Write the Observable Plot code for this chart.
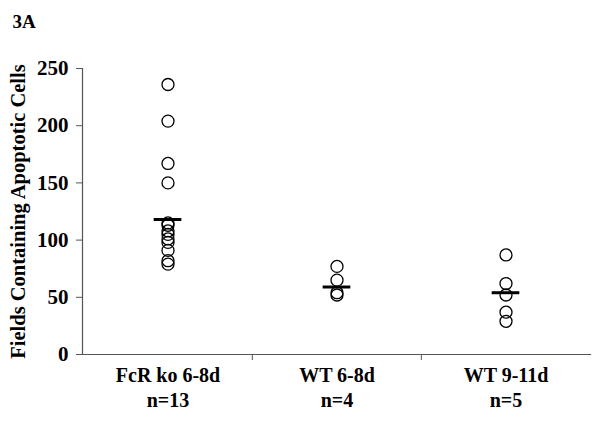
<!DOCTYPE html>
<html>
<head>
<meta charset="utf-8">
<script src="https://cdn.jsdelivr.net/npm/d3@7"></script>
<script src="https://cdn.jsdelivr.net/npm/@observablehq/plot@0.6"></script>
<style>
  body { margin: 0; background: white; }
</style>
</head>
<body>
<div id="chart"></div>
<script>
const groups = ["FcR ko 6-8d", "WT 6-8d", "WT 9-11d"];
const nLabels = ["n=13", "n=4", "n=5"];
const fcrValues = [236, 204, 167, 150, 115, 113, 108, 105, 101, 98, 91, 82, 79];
const wt68Values = [77, 65, 54, 52];
const wt911Values = [87, 62, 52, 37, 29];
const centerLines = [118, 59, 54];
const yTicks = [0, 50, 100, 150, 200, 250];
const yLabel = "Fields Containing Apoptotic Cells";
const panelLabel = "3A";

const points = [
  ...fcrValues.map(v => ({group: groups[0], value: v})),
  ...wt68Values.map(v => ({group: groups[1], value: v})),
  ...wt911Values.map(v => ({group: groups[2], value: v}))
];
const lines = groups.map((g, i) => ({group: g, value: centerLines[i]}));

const W = 600, H = 432, mL = 82, mR = 10, mT = 68, mB = 78;
const bw = (W - mL - mR) / groups.length;
const font = "'Liberation Serif', 'Times New Roman', serif";

const chart = Plot.plot({
  width: W,
  height: H,
  marginLeft: mL,
  marginRight: mR,
  marginTop: mT,
  marginBottom: mB,
  style: {fontFamily: font, fontWeight: "bold", fontSize: "20px", color: "black", background: "white"},
  x: {domain: groups, padding: 0, axis: null},
  y: {domain: [0, 250], axis: null},
  marks: [
    Plot.axisY({ticks: yTicks, tickSize: 6, tickPadding: 8, label: null, stroke: "#555", fontSize: 21}),
    Plot.axisX({tickSize: 0, tickPadding: 10, label: null, fontSize: 20, lineHeight: 1.25,
      tickFormat: d => d + "\n" + nLabels[groups.indexOf(d)]}),
    Plot.axisX({ticks: groups.slice(1), tickSize: 6, tickFormat: () => "", label: null, dx: -bw / 2, stroke: "#555"}),
    Plot.frame({anchor: "left", stroke: "#555", strokeWidth: 1.2}),
    Plot.frame({anchor: "bottom", stroke: "#555", strokeWidth: 1.2}),
    Plot.dot(points, {x: "group", y: "value", r: 6, stroke: "black", strokeWidth: 1.3}),
    Plot.tickY(lines, {x: "group", y: "value", stroke: "black", strokeWidth: 3, insetLeft: (bw - 28) / 2, insetRight: (bw - 28) / 2}),
    Plot.text([yLabel], {frameAnchor: "left", rotate: -90, dx: -64, textAnchor: "middle", lineAnchor: "middle", fontSize: 20.5, fontWeight: "bold", fill: "black"}),
    Plot.text([panelLabel], {frameAnchor: "top-left", dx: -70, dy: -47, textAnchor: "start", lineAnchor: "middle", fontSize: 19, fontWeight: "bold", fill: "black"})
  ]
});
document.getElementById("chart").appendChild(chart);
</script>
</body>
</html>
